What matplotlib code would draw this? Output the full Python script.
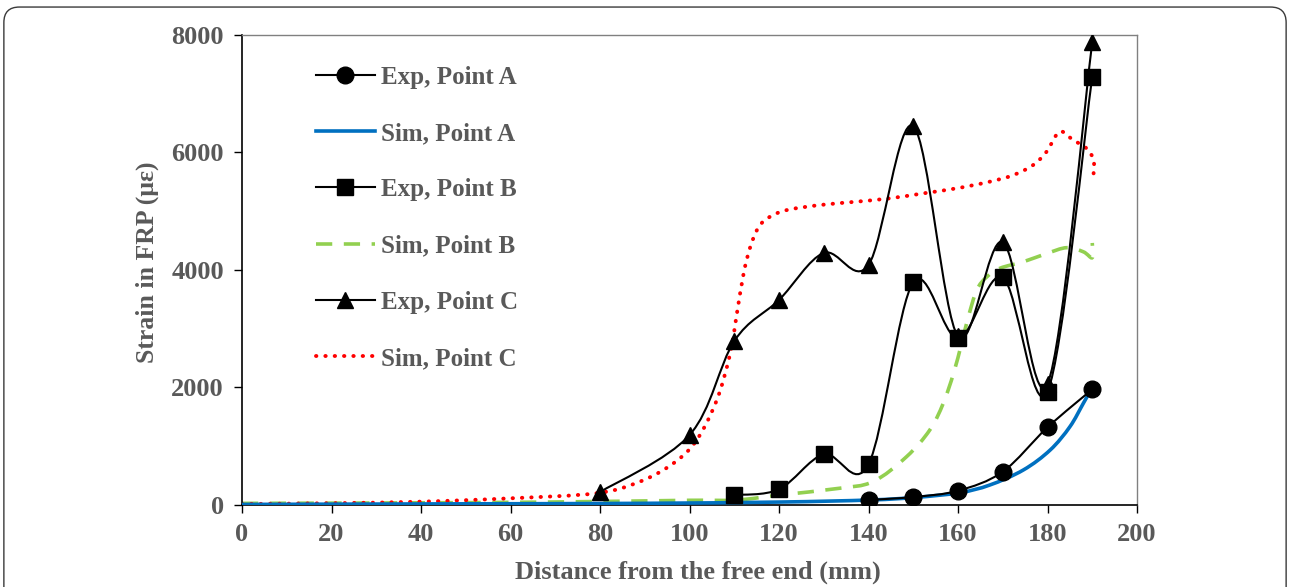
import numpy as np
import matplotlib
matplotlib.use("Agg")
import matplotlib.pyplot as plt
from matplotlib.path import Path
from matplotlib.patches import PathPatch, FancyBboxPatch
from matplotlib.lines import Line2D

plt.rcParams["font.family"] = ["Liberation Serif", "DejaVu Serif"]
plt.rcParams["font.weight"] = "bold"

# Mesures experimentales (jauges)
x_exp_a = [140, 150, 160, 170, 180, 190]
y_exp_a = [85, 136, 243, 567, 1322, 1969]

x_exp_b = [110, 120, 130, 140, 150, 160, 170, 180, 190]
y_exp_b = [170, 267, 863, 693, 3790, 2837, 3875, 1929, 7290]

x_exp_c = [80, 100, 110, 120, 130, 140, 150, 160, 170, 180, 190]
y_exp_c = [220, 1190, 2790, 3490, 4290, 4085, 6450, 2870, 4476, 2060, 7880]

# Courbes de simulation
x_sim_a = [0, 50, 89, 120, 140.3, 150.7, 160.4, 167.1, 174.6, 180.6, 185, 188, 190]
y_sim_a = [10, 20, 28, 50, 85, 130, 210, 340, 596, 936, 1332, 1730, 2000]

x_sim_b = [0, 50, 80, 100, 110.5, 120.2, 133, 141, 148.5, 153.7, 156.7, 159, 160.8,
           162.3, 164.2, 166.4, 169.4, 174.6, 179.8, 184.3, 188, 190, 190]
y_sim_b = [28, 40, 60, 80, 85, 170, 280, 397, 822, 1277, 1730, 2240, 2750,
           3200, 3660, 3880, 4030, 4140, 4280, 4380, 4310, 4210, 4460]

x_sim_c = [0, 20, 40, 60, 79.2, 88.9, 96.4, 101.6, 106.1, 109.1, 110.6, 112.1, 113.6,
           115.5, 118, 121.8, 129.2, 137.4, 144.8, 152.3, 159.7, 167.1, 172.4, 176.8,
           179.8, 182.7, 185.7, 188.7, 190.3, 190.3]
y_sim_c = [17, 30, 57, 114, 200, 397, 709, 1106, 1787, 2582, 3263, 3943, 4397,
           4737, 4907, 5021, 5106, 5163, 5220, 5305, 5390, 5503, 5617, 5787,
           6014, 6354, 6213, 6071, 5872, 5645]

gris = "#595959"


def chemin_lisse(x, y):
    """Courbe de Bezier passant par les points (lissage type tableur)."""
    p = np.column_stack([x, y]).astype(float)
    n = len(p)
    verts = [p[0]]
    codes = [Path.MOVETO]
    for i in range(n - 1):
        p0 = p[i - 1] if i > 0 else p[i]
        p1 = p[i]
        p2 = p[i + 1]
        p3 = p[i + 2] if i + 2 < n else p[i + 1]
        c1 = p1 + (p2 - p0) / 6.0
        c2 = p2 - (p3 - p1) / 6.0
        verts += [c1, c2, p2]
        codes += [Path.CURVE4] * 3
    return Path(verts, codes)


def courbe(ax, x, y, **kw):
    patch = PathPatch(chemin_lisse(x, y), facecolor="none", **kw)
    ax.add_patch(patch)
    return patch


fig = plt.figure(figsize=(12.9, 5.87), dpi=100)
ax = fig.add_axes([0.1876, 0.1397, 0.8814 - 0.1876, 0.9404 - 0.1397])

# cadre arrondi autour de la figure
cadre = FancyBboxPatch((0.003, -0.05), 0.994, 1.038, transform=fig.transFigure,
                       boxstyle="round,pad=0,rounding_size=0.012",
                       facecolor="none", edgecolor="#3a3a3a", lw=1.0,
                       mutation_aspect=1290 / 587)
fig.patches.append(cadre)

# simulations
courbe(ax, x_sim_a, y_sim_a, edgecolor="#0070C0", lw=2.6, zorder=3)
courbe(ax, x_sim_b, y_sim_b, edgecolor="#92D050", lw=2.6, linestyle=(0, (4.5, 3.2)), zorder=2)
courbe(ax, x_sim_c, y_sim_c, edgecolor="#FF0000", lw=2.8, linestyle=(0, (0.1, 2.3)),
       capstyle="round", zorder=2)

# experiences
for xs, ys, mk, ms in [(x_exp_a, y_exp_a, "o", 12), (x_exp_b, y_exp_b, "s", 11),
                       (x_exp_c, y_exp_c, "^", 11.5)]:
    courbe(ax, xs, ys, edgecolor="black", lw=1.5, zorder=4)
    ax.plot(xs, ys, linestyle="none", marker=mk, markersize=ms, color="black", zorder=5)

ax.set_xlim(0, 200)
ax.set_ylim(0, 8000)
ax.set_xticks(np.arange(0, 201, 20))
ax.set_yticks(np.arange(0, 8001, 2000))
ax.tick_params(axis="both", direction="out", length=6, width=1.0, color="black",
               labelsize=19, labelcolor=gris, pad=7)
for s in ["left", "bottom"]:
    ax.spines[s].set_color("black")
    ax.spines[s].set_linewidth(1.2)
for s in ["top", "right"]:
    ax.spines[s].set_color("#808080")
    ax.spines[s].set_linewidth(1.0)

ax.set_xlabel("Distance from the free end (mm)", fontsize=19, fontweight="bold",
              color=gris)
ax.set_ylabel("Strain in FRP (\u03bc\u03b5)", fontsize=18.5, fontweight="bold",
              color=gris)
ax.xaxis.set_label_coords(0.5095, -0.118)
ax.yaxis.set_label_coords(-0.093, 0.517)

poignees = [
    Line2D([], [], color="black", lw=1.5, marker="o", markersize=12),
    Line2D([], [], color="#0070C0", lw=2.6),
    Line2D([], [], color="black", lw=1.5, marker="s", markersize=11),
    Line2D([], [], color="#92D050", lw=2.6, linestyle=(0, (4.5, 3.2))),
    Line2D([], [], color="black", lw=1.5, marker="^", markersize=11.5),
    Line2D([], [], color="#FF0000", lw=2.8, linestyle=(0, (0.1, 2.3)), dash_capstyle="round"),
]
noms = ["Exp, Point A", "Sim, Point A", "Exp, Point B", "Sim, Point B",
        "Exp, Point C", "Sim, Point C"]
leg = ax.legend(poignees, noms, loc="upper left", bbox_to_anchor=(0.063, 0.972),
                frameon=False, fontsize=18, handlelength=2.35, handletextpad=0.25,
                labelspacing=1.33, numpoints=1, borderaxespad=0.3)
for t in leg.get_texts():
    t.set_color(gris)

fig.savefig("out.png", dpi=100)
